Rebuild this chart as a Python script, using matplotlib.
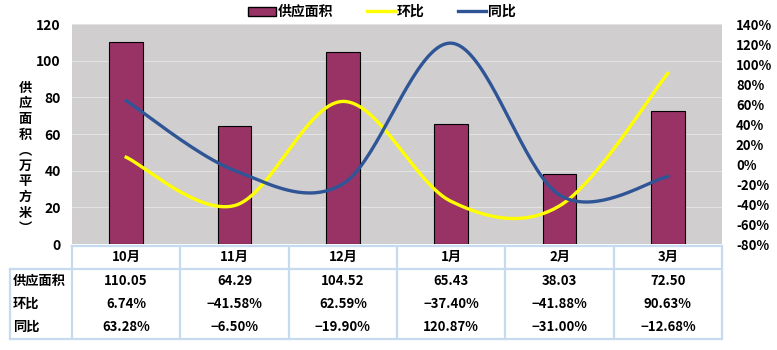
import numpy as np
import matplotlib.pyplot as plt
from matplotlib.lines import Line2D
from matplotlib.patches import Patch

plt.rcParams['font.family'] = ['Noto Sans CJK SC', 'DejaVu Sans']
plt.rcParams['font.weight'] = 'bold'

months = ['10月', '11月', '12月', '1月', '2月', '3月']
supply = [110.05, 64.29, 104.52, 65.43, 38.03, 72.50]
mom = [6.74, -41.58, 62.59, -37.40, -41.88, 90.63]
yoy = [63.28, -6.50, -19.90, 120.87, -31.00, -12.68]


def smooth(y, n=40):
    # Catmull-Rom style smoothing through the points
    y = np.asarray(y, float)
    x = np.arange(len(y), dtype=float)
    px = np.concatenate([[x[0]], x, [x[-1]]])
    py = np.concatenate([[y[0]], y, [y[-1]]])
    xs, ys = [], []
    for i in range(1, len(px) - 2):
        p0, p1, p2, p3 = [np.array([px[j], py[j]]) for j in range(i - 1, i + 3)]
        c1 = p1 + (p2 - p0) / 6
        c2 = p2 - (p3 - p1) / 6
        t = np.linspace(0, 1, n)[:, None]
        b = (1 - t) ** 3 * p1 + 3 * (1 - t) ** 2 * t * c1 + 3 * (1 - t) * t ** 2 * c2 + t ** 3 * p2
        xs.append(b[:, 0]); ys.append(b[:, 1])
    return np.concatenate(xs), np.concatenate(ys)


W, H = 777, 350
fig = plt.figure(figsize=(W / 100, H / 100), dpi=100)
L, R, T, B = 72, 722, 24, 244
ax = fig.add_axes([L / W, 1 - B / H, (R - L) / W, (B - T) / H])
ax.set_facecolor('#d0cece')
x = np.arange(len(months))
ax.bar(x, supply, width=0.31, color='#993366', edgecolor='black', linewidth=0.8, zorder=3)
ax.set_xlim(-0.5, len(months) - 0.5)
ax.set_ylim(0, 120)
ax.set_yticks(range(0, 121, 20))
ax.yaxis.grid(True, color='#e2e2e2', linewidth=0.8, zorder=0)
ax.set_xticks([])
ax.tick_params(axis='y', length=0, labelsize=10, pad=8)
for s in ax.spines.values():
    s.set_visible(False)

ax2 = ax.twinx()
ax2.set_ylim(-80, 140)
ax2.set_yticks(range(-80, 141, 20))
ax2.set_yticklabels([f'{v}%' for v in range(-80, 141, 20)])
ax2.tick_params(axis='y', length=0, labelsize=9.5, pad=10)
for s in ax2.spines.values():
    s.set_visible(False)
sx, sy = smooth(mom)
ax2.plot(sx, sy, color='#ffff00', linewidth=2.4, zorder=4)
sx, sy = smooth(yoy)
ax2.plot(sx, sy, color='#2f5597', linewidth=2.4, zorder=4)

fig.text(25 / W, 1 - 158 / H, '\n'.join('供应面积︵万平方米︶'), ha='center', va='center',
         fontsize=9.5, linespacing=1.15)

handles = [Patch(facecolor='#993366', edgecolor='black'),
           Line2D([], [], color='#ffff00', linewidth=2.4),
           Line2D([], [], color='#2f5597', linewidth=2.4)]
fig.legend(handles, ['供应面积', '环比', '同比'], loc='center', bbox_to_anchor=(382 / W, 1 - 12 / H),
           ncol=3, frameon=False, fontsize=10, handlelength=2.0, handletextpad=0.15,
           columnspacing=2.4, handleheight=0.6)

# data table under the plot
tab = fig.add_axes([0, 0, 1, 1], zorder=-1)
tab.set_xlim(0, W)
tab.set_ylim(H, 0)
tab.axis('off')
tab.patch.set_alpha(0)
colw = (R - L) / len(months)
edges = [L + i * colw for i in range(len(months) + 1)]
bc = '#c6dbef'
tab.plot([L, R], [246, 246], color=bc, lw=1.6)
tab.plot([10, R], [269, 269], color=bc, lw=1.6)
tab.plot([10, R], [339, 339], color=bc, lw=1.6)
for e in edges:
    tab.plot([e, e], [246, 339], color=bc, lw=1.6)
tab.plot([10, 10], [269, 339], color=bc, lw=1.6)
rows = [('供应面积', [f'{v:.2f}' for v in supply]),
        ('环比', [f'{v:.2f}%' for v in mom]),
        ('同比', [f'{v:.2f}%' for v in yoy])]
for i, m in enumerate(months):
    cx = L + (i + 0.5) * colw
    tab.text(cx, 257, m, ha='center', va='center', fontsize=9.5)
ys = [281, 304, 327]
for (name, vals), yy in zip(rows, ys):
    tab.text(13, yy, name, ha='left', va='center', fontsize=9.5)
    for i, v in enumerate(vals):
        cx = L + (i + 0.5) * colw
        tab.text(cx, yy, v.replace('-', '−'), ha='center', va='center', fontsize=9.5)

fig.savefig('out.png', dpi=100)
